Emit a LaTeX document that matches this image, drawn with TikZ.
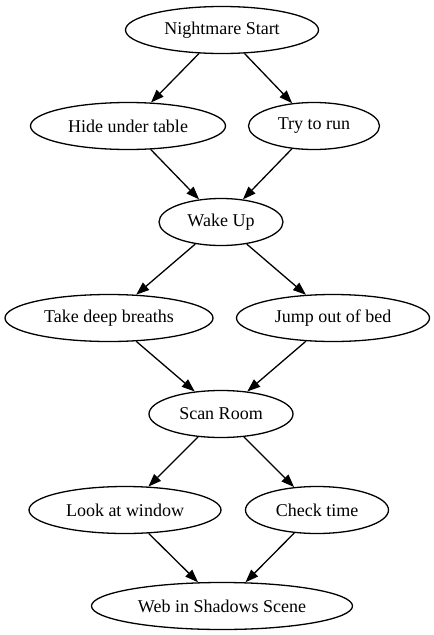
\documentclass[tikz,border=0pt]{standalone}
\usepackage{fontspec}
\setmainfont{Liberation Serif}
\usetikzlibrary{positioning,arrows.meta,shapes.geometric}

\tikzset{
  stepnode/.style={ellipse,draw,line width=1.3pt,inner sep=0pt,
    minimum height=47pt,font=\fontsize{18}{21}\selectfont},
  flow/.style={line width=1.3pt,-{Triangle[length=13pt,width=9.5pt]}}
}

\begin{document}
\begin{tikzpicture}[x=1pt,y=-1pt]
\useasboundingbox (0,0) rectangle (434,635);
% nodes
\node[stepnode,minimum width=193pt] (start) at (222,30) {Nightmare Start};
\node[stepnode,minimum width=195pt] (hide) at (128,126) {Hide under table};
\node[stepnode,minimum width=131pt] (run) at (314,126) {Try to run};
\node[stepnode,minimum width=124pt] (wake) at (221,222) {Wake Up};
\node[stepnode,minimum width=208pt] (breath) at (109,318) {Take deep breaths};
\node[stepnode,minimum width=193pt] (jump) at (333,318) {Jump out of bed};
\node[stepnode,minimum width=144pt] (scan) at (221,414) {Scan Room};
\node[stepnode,minimum width=192pt] (window) at (125,510) {Look at window};
\node[stepnode,minimum width=143pt] (time) at (317,510) {Check time};
\node[stepnode,minimum width=261pt] (web) at (222,606) {Web in Shadows Scene};
% edges
\draw[flow] (start) -- (hide);
\draw[flow] (start) -- (run);
\draw[flow] (hide) -- (wake);
\draw[flow] (run) -- (wake);
\draw[flow] (wake) -- (breath);
\draw[flow] (wake) -- (jump);
\draw[flow] (breath) -- (scan);
\draw[flow] (jump) -- (scan);
\draw[flow] (scan) -- (window);
\draw[flow] (scan) -- (time);
\draw[flow] (window) -- (web);
\draw[flow] (time) -- (web);
\end{tikzpicture}
\end{document}
